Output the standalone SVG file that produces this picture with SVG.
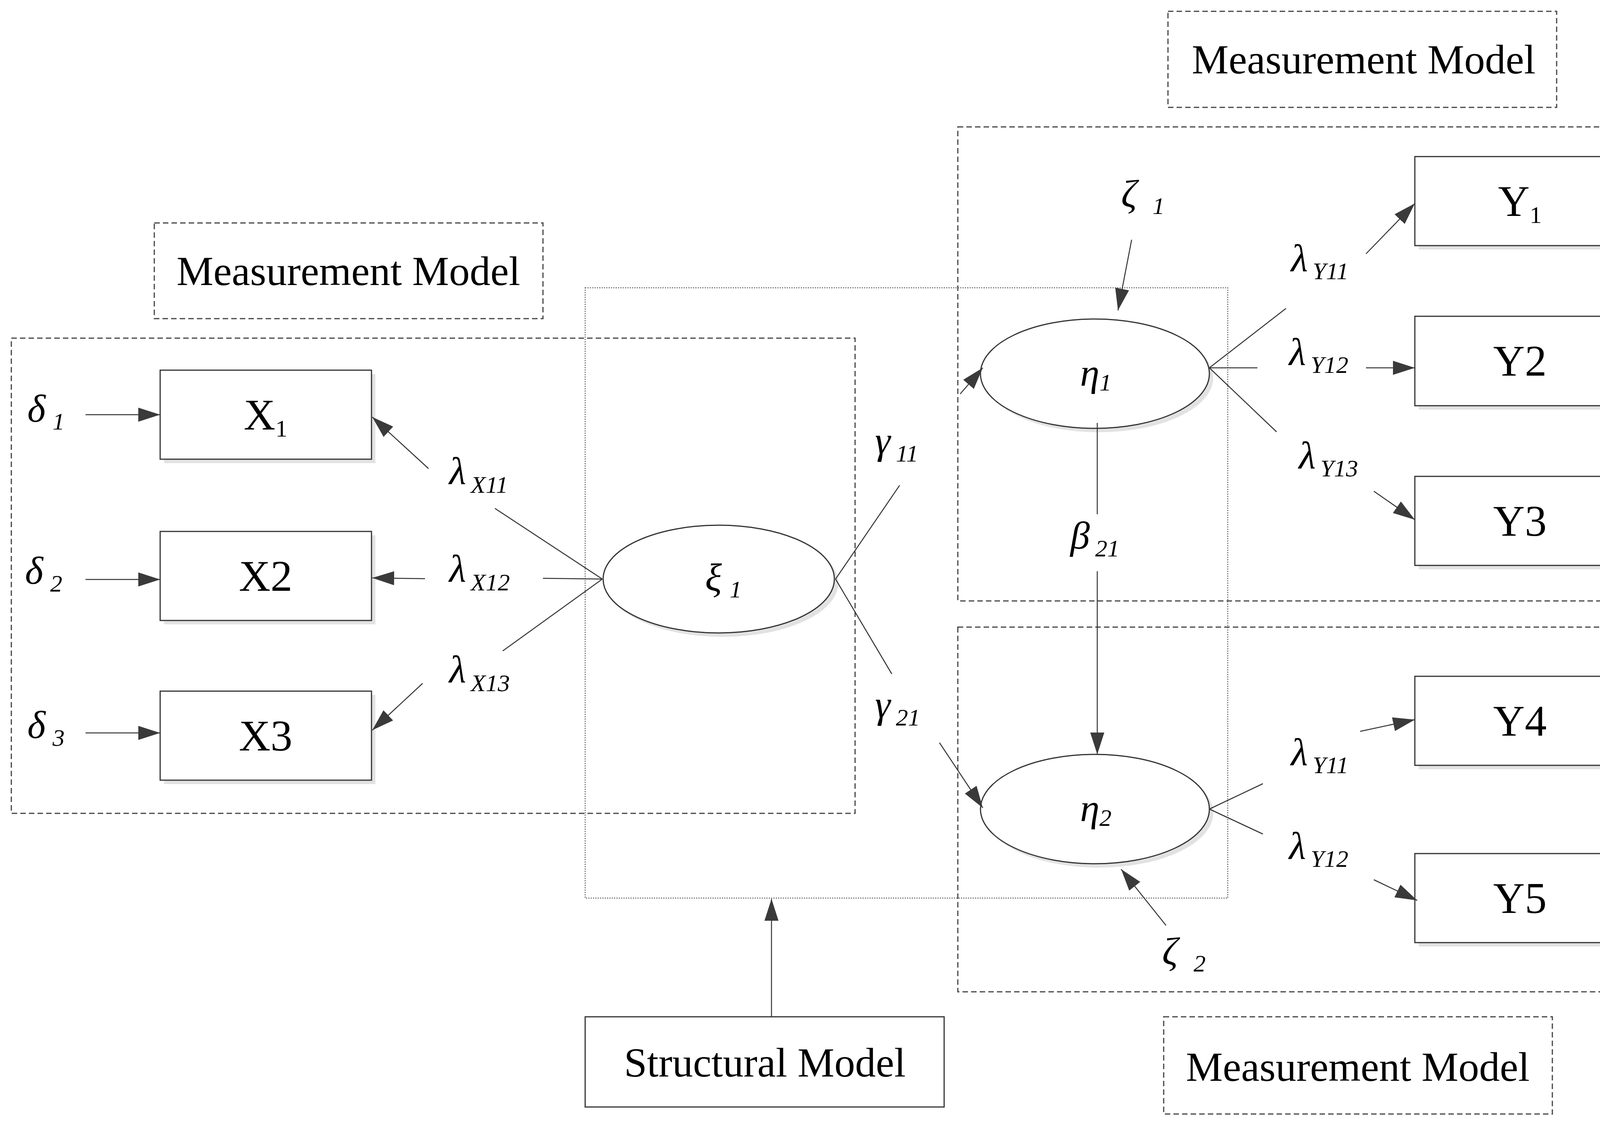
<svg xmlns="http://www.w3.org/2000/svg" width="4576" height="2876" viewBox="0 0 4576 2876">
<style>
.bx{fill:#fff;stroke:#333;stroke-width:3}
.sh{fill:#e2e2e2;stroke:none}
.dash{fill:none;stroke:#444;stroke-width:3;stroke-dasharray:14 8}
.dot{fill:none;stroke:#666;stroke-width:2.5;stroke-dasharray:3 3}
.ln{fill:none;stroke:#333;stroke-width:2.5}
.ar{fill:none;stroke:#333;stroke-width:2.5;marker-end:url(#ah)}
.t{font-family:"Liberation Serif",serif;font-size:106px;fill:#000;text-anchor:middle}
.b{font-size:112px}
.g{font-family:"Liberation Serif",serif;font-style:italic;font-size:100px;fill:#000}
.s{font-size:62px}
</style>
<defs>
<marker id="ah" markerUnits="userSpaceOnUse" markerWidth="60" markerHeight="40" refX="56" refY="18" orient="auto">
<path d="M0,0 L56,18 L0,36 Z" fill="#3a3a3a"/>
</marker>
</defs>
<g id="frames">
<rect class="dash" x="2990" y="29" width="995" height="246"/>
<rect class="dash" x="2452" y="325" width="2098" height="1214"/>
<rect class="dash" x="2452" y="1606" width="2098" height="934"/>
<rect class="dash" x="2979" y="2604" width="995" height="249"/>
<rect class="dash" x="395" y="571" width="995" height="245"/>
<rect class="dash" x="29" y="866" width="2160" height="1217"/>
<rect class="dot" x="1498" y="737" width="1645" height="1563"/>
<rect class="bx" x="1498" y="2604" width="919" height="231" stroke-width="2"/>
<text class="t" x="3491" y="188">Measurement Model</text>
<text class="t" x="3476" y="2768">Measurement Model</text>
<text class="t" x="892" y="730">Measurement Model</text>
<text class="t" x="1958" y="2757">Structural Model</text>
</g>
<g id="X1"><rect class="sh" x="420" y="958" width="541" height="228"/><rect class="bx" x="410" y="948" width="541" height="228"/><text class="t b" x="680" y="1100">X<tspan class="s" dy="18">1</tspan></text></g>
<g id="X2"><rect class="sh" x="420" y="1371" width="541" height="228"/><rect class="bx" x="410" y="1361" width="541" height="228"/><text class="t b" x="680" y="1513">X2</text></g>
<g id="X3"><rect class="sh" x="420" y="1780" width="541" height="228"/><rect class="bx" x="410" y="1770" width="541" height="228"/><text class="t b" x="680" y="1922">X3</text></g>
<g id="xi"><ellipse class="sh" cx="1850" cy="1493" rx="296" ry="138"/><ellipse class="bx" cx="1840" cy="1483" rx="296" ry="138"/><text class="g" x="1805" y="1512">ξ<tspan class="s" dx="20" dy="18">1</tspan></text></g>
<g id="eta1"><ellipse class="sh" cx="2813" cy="967" rx="293" ry="140"/><ellipse class="bx" cx="2803" cy="957" rx="293" ry="140"/><text class="g" x="2765" y="988">η<tspan class="s" dy="12">1</tspan></text></g>
<g id="eta2"><ellipse class="sh" cx="2813" cy="2082" rx="293" ry="140"/><ellipse class="bx" cx="2803" cy="2072" rx="293" ry="140"/><text class="g" x="2765" y="2103">η<tspan class="s" dy="12">2</tspan></text></g>
<g id="Y1"><rect class="sh" x="3632" y="411" width="539" height="228"/><rect class="bx" x="3622" y="401" width="539" height="228"/><text class="t b" x="3891" y="553">Y<tspan class="s" dy="18">1</tspan></text></g>
<g id="Y2"><rect class="sh" x="3632" y="820" width="539" height="229"/><rect class="bx" x="3622" y="810" width="539" height="229"/><text class="t b" x="3891" y="962">Y2</text></g>
<g id="Y3"><rect class="sh" x="3632" y="1230" width="539" height="228"/><rect class="bx" x="3622" y="1220" width="539" height="228"/><text class="t b" x="3891" y="1372">Y3</text></g>
<g id="Y4"><rect class="sh" x="3632" y="1742" width="539" height="228"/><rect class="bx" x="3622" y="1732" width="539" height="228"/><text class="t b" x="3891" y="1884">Y4</text></g>
<g id="Y5"><rect class="sh" x="3632" y="2196" width="539" height="228"/><rect class="bx" x="3622" y="2186" width="539" height="228"/><text class="t b" x="3891" y="2338">Y5</text></g>
<g id="connectors">
<line class="ar" x1="1975" y1="2604" x2="1975" y2="2302"/>
<line class="ar" x1="219" y1="1062" x2="410" y2="1062"/>
<line class="ar" x1="219" y1="1484" x2="410" y2="1484"/>
<line class="ar" x1="219" y1="1877" x2="410" y2="1877"/>
<line class="ln" x1="1542" y1="1483" x2="1267" y2="1302"/>
<line class="ar" x1="1097" y1="1200" x2="953" y2="1068"/>
<line class="ln" x1="1542" y1="1483" x2="1390" y2="1481"/>
<line class="ar" x1="1088" y1="1482" x2="953" y2="1480"/>
<line class="ln" x1="1542" y1="1483" x2="1287" y2="1667"/>
<line class="ar" x1="1082" y1="1750" x2="953" y2="1870"/>
<line class="ln" x1="2139" y1="1483" x2="2303" y2="1243"/>
<line class="ar" x1="2458" y1="1009" x2="2516" y2="942"/>
<line class="ln" x1="2139" y1="1483" x2="2283" y2="1726"/>
<line class="ar" x1="2405" y1="1902" x2="2516" y2="2069"/>
<line class="ln" x1="3096" y1="942" x2="3292" y2="790"/>
<line class="ar" x1="3497" y1="650" x2="3622" y2="521"/>
<line class="ln" x1="3096" y1="942" x2="3219" y2="942"/>
<line class="ar" x1="3497" y1="942" x2="3622" y2="942"/>
<line class="ln" x1="3096" y1="942" x2="3268" y2="1106"/>
<line class="ar" x1="3517" y1="1258" x2="3622" y2="1331"/>
<line class="ln" x1="2809" y1="1083" x2="2809" y2="1317"/>
<line class="ar" x1="2809" y1="1463" x2="2809" y2="1932"/>
<line class="ar" x1="2897" y1="614" x2="2862" y2="795"/>
<line class="ar" x1="2985" y1="2370" x2="2870" y2="2226"/>
<line class="ln" x1="3096" y1="2072" x2="3233" y2="2007"/>
<line class="ar" x1="3482" y1="1873" x2="3622" y2="1843"/>
<line class="ln" x1="3096" y1="2072" x2="3233" y2="2136"/>
<line class="ar" x1="3517" y1="2253" x2="3628" y2="2306"/>
<line class="ar" x1="4360" y1="516" x2="4163" y2="515"/>
<line class="ar" x1="4360" y1="926" x2="4163" y2="925"/>
<line class="ar" x1="4360" y1="1337" x2="4163" y2="1336"/>
<line class="ar" x1="4360" y1="1846" x2="4163" y2="1845"/>
<line class="ar" x1="4360" y1="2302" x2="4163" y2="2301"/>
</g>
<g id="labels">
<text class="g" x="70" y="1080">δ<tspan class="s" dx="18" dy="20">1</tspan></text>
<text class="g" x="64" y="1495">δ<tspan class="s" dx="18" dy="20">2</tspan></text>
<text class="g" x="70" y="1890">δ<tspan class="s" dx="18" dy="20">3</tspan></text>
<text class="g" x="1150" y="1240">λ<tspan class="s" dx="12" dy="22">X11</tspan></text>
<text class="g" x="1150" y="1490">λ<tspan class="s" dx="12" dy="22">X12</tspan></text>
<text class="g" x="1150" y="1748">λ<tspan class="s" dx="12" dy="22">X13</tspan></text>
<text class="g" x="2240" y="1162">γ<tspan class="s" dx="14" dy="20">11</tspan></text>
<text class="g" x="2240" y="1838">γ<tspan class="s" dx="14" dy="20">21</tspan></text>
<text class="g" x="3305" y="695">λ<tspan class="s" dx="12" dy="20">Y11</tspan></text>
<text class="g" x="3300" y="935">λ<tspan class="s" dx="12" dy="20">Y12</tspan></text>
<text class="g" x="3325" y="1200">λ<tspan class="s" dx="12" dy="20">Y13</tspan></text>
<text class="g" x="3305" y="1960">λ<tspan class="s" dx="12" dy="20">Y11</tspan></text>
<text class="g" x="3300" y="2200">λ<tspan class="s" dx="12" dy="20">Y12</tspan></text>
<text class="g" x="2740" y="1405">β<tspan class="s" dx="14" dy="20">21</tspan></text>
<text class="g" x="2870" y="530">ζ<tspan class="s" dx="40" dy="18">1</tspan></text>
<text class="g" x="2975" y="2470">ζ<tspan class="s" dx="40" dy="18">2</tspan></text>
<text class="g" x="4400" y="530">ε<tspan class="s" dx="26" dy="18">1</tspan></text>
<text class="g" x="4400" y="945">ε<tspan class="s" dx="26" dy="18">2</tspan></text>
<text class="g" x="4400" y="1355">ε<tspan class="s" dx="26" dy="18">3</tspan></text>
<text class="g" x="4400" y="1865">ε<tspan class="s" dx="26" dy="18">4</tspan></text>
<text class="g" x="4400" y="2318">ε<tspan class="s" dx="26" dy="18">5</tspan></text>
</g>
</svg>
